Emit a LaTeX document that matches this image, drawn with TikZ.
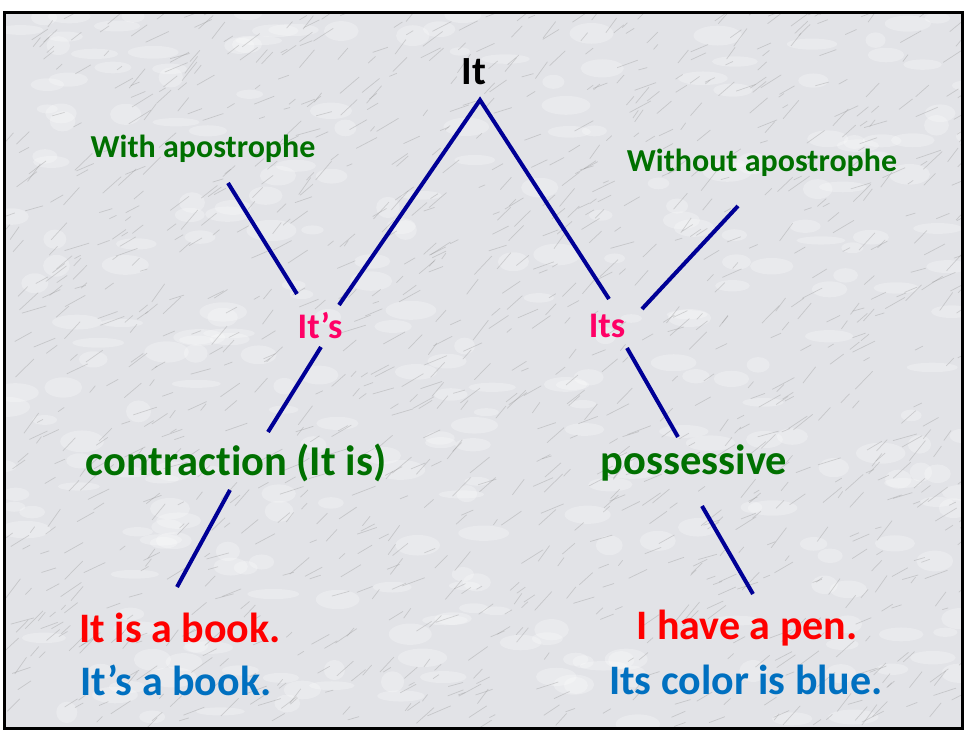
\documentclass[tikz,border=0pt]{standalone}
\usepackage{fontspec}
\setmainfont[RawFeature=-liga]{Carlito}
\definecolor{grn}{RGB}{0,112,0}
\definecolor{pnk}{RGB}{255,0,102}
\definecolor{rd}{RGB}{255,0,0}
\definecolor{bl}{RGB}{0,112,192}
\definecolor{nv}{RGB}{0,0,150}
\definecolor{marble}{RGB}{226,227,231}
\tikzset{
  lbl/.style={inner sep=0pt, font=\bfseries},
  grnsmall/.style={lbl, text=grn, font=\fontsize{32}{36}\selectfont\bfseries},
  grnbig/.style={lbl, text=grn, font=\fontsize{42.5}{48}\selectfont\bfseries},
  pk/.style={lbl, text=pnk, font=\fontsize{36}{40}\selectfont\bfseries},
  ex/.style={lbl, font=\fontsize{42}{48}\selectfont\bfseries},
  conn/.style={draw=nv, line width=4pt},
  vein/.style={gray!90, line width=0.7pt, opacity=0.33}
}
\begin{document}
\begin{tikzpicture}[x=1pt,y=-1pt]
\useasboundingbox (0,0) rectangle (967,731);
\fill[white] (0,0) rectangle (967,731);
\fill[marble] (4,12) rectangle (962,728);
\begin{scope}
\clip (4,12) rectangle (962,728);
\pgfmathsetseed{4242}
\foreach \i in {1,...,300} {
  \pgfmathsetmacro{\xx}{rnd*967}
  \pgfmathsetmacro{\yy}{12+rnd*716}
  \fill[white, opacity=0.25] (\xx,\yy) ellipse ({10+rnd*16} and {4+rnd*7});
}
\foreach \i in {1,...,1200} {
  \pgfmathsetmacro{\xx}{rnd*967}
  \pgfmathsetmacro{\yy}{12+rnd*716}
  \pgfmathsetmacro{\ll}{6+rnd*20}
  \pgfmathsetmacro{\aa}{15+rnd*40}
  \draw[vein] (\xx,\yy) -- ++({\ll*cos(\aa)},{-\ll*sin(\aa)});
}
\end{scope}
\draw[black, line width=3pt] (4,12) rectangle (962,728);

% texts
\node[lbl, font=\fontsize{40}{46}\selectfont\bfseries] (it) at (474,72) {It};
\node[grnsmall] (with) at (203,149) {With apostrophe};
\node[grnsmall] (without) at (762,163) {Without apostrophe};
\node[pk] (its1) at (320,326) {It’s};
\node[pk] (its2) at (607,326) {Its};
\node[grnbig] (contr) at (236,463) {contraction (It is)};
\node[grnbig] (poss) at (694,463) {possessive};
\node[ex, text=rd] (book1) at (180,628) {It is a book.};
\node[ex, text=bl] (book2) at (176,680) {It’s a book.};
\node[ex, text=rd] (pen1) at (747,628) {I have a pen.};
\node[ex, text=bl] (pen2) at (746,680) {Its color is blue.};

% connector end points
\coordinate (apex) at (480,100);
\coordinate (aL) at (339,305);
\coordinate (aR) at (609,299);
\coordinate (wA) at (228,183);
\coordinate (wB) at (297,294);
\coordinate (woA) at (738,206);
\coordinate (woB) at (642,309);
\coordinate (cA) at (321,347);
\coordinate (cB) at (268,432);
\coordinate (dA) at (230,490);
\coordinate (dB) at (177,587);
\coordinate (pA) at (627,348);
\coordinate (pB) at (678,437);
\coordinate (qA) at (702,506);
\coordinate (qB) at (753,594);

\draw[conn] (aL) -- (apex) -- (aR);
\draw[conn] (wA) -- (wB);
\draw[conn] (woA) -- (woB);
\draw[conn] (cA) -- (cB);
\draw[conn] (dA) -- (dB);
\draw[conn] (pA) -- (pB);
\draw[conn] (qA) -- (qB);
\end{tikzpicture}
\end{document}
